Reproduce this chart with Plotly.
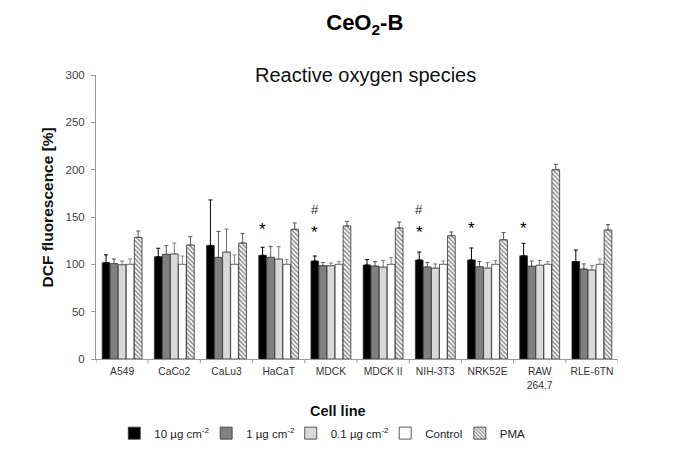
import plotly.graph_objects as go

cell_lines = ["A549", "CaCo2", "CaLu3", "HaCaT", "MDCK", "MDCK II", "NIH-3T3", "NRK52E", "RAW<br>264.7", "RLE-6TN"]
series_names = ["10 µg cm<sup>-2</sup>", "1 µg cm<sup>-2</sup>", "0.1 µg cm<sup>-2</sup>", "Control", "PMA"]

v_10 = [101.8, 108, 120, 109.5, 103.5, 99.3, 104.6, 104.6, 109, 103]
e_10 = [8.2, 9, 48, 8.5, 5.3, 5.7, 8.4, 12.7, 13.2, 12]
v_1 = [100.7, 110.6, 107.4, 107.4, 98.6, 98.2, 97.2, 97.5, 98, 95]
e_1 = [4.9, 9.1, 27.4, 11.6, 3.4, 4.6, 4.8, 5.5, 5.5, 5.4]
v_01 = [99.6, 111, 113, 105.6, 98.6, 97, 96, 96, 99, 94]
e_01 = [3.9, 11.5, 24.3, 13.1, 2.8, 6.9, 4.4, 5.8, 5, 4.6]
v_ctrl = [100, 100, 100, 100, 100, 100, 100, 100, 100, 100]
e_ctrl = [5.6, 8.8, 10, 5, 2.8, 7, 3.5, 3.9, 2.8, 5.6]
v_pma = [128.5, 120.4, 122.5, 137, 140.5, 138.4, 130.3, 126, 200, 136.3]
e_pma = [6.7, 8.8, 10.2, 6.7, 4.9, 6.3, 3.9, 7.5, 5.6, 5.7]

star_idx = [3, 4, 6, 7, 8]
star_y = [140, 137, 137, 140.8, 140.8]
hash_idx = [4, 6]
hash_y = [158, 158]

fills = ["#000000", "#808080", "#d9d9d9", "#ffffff", "#ffffff"]
errcol = ["#000000", "#555555", "#777777", "#888888", "#555555"]
vals = [v_10, v_1, v_01, v_ctrl, v_pma]
errs = [e_10, e_1, e_01, e_ctrl, e_pma]

# legend entry left positions (paper fraction of plot width)
legend_x = [0.035, 0.211, 0.373, 0.554, 0.697]
legend_ids = ["legend", "legend2", "legend3", "legend4", "legend5"]

fig = go.Figure()
for i in range(5):
    marker = dict(color=fills[i], line=dict(color="#333333", width=0.8))
    if i == 4:
        marker["pattern"] = dict(shape="\\", fgcolor="#222222", bgcolor="#ffffff", size=3.2, solidity=0.5)
    fig.add_trace(go.Bar(
        x=list(range(len(cell_lines))), y=vals[i], name=series_names[i], marker=marker,
        legend=legend_ids[i],
        error_y=dict(type="data", symmetric=False, array=errs[i], arrayminus=[0] * len(cell_lines),
                     color=errcol[i], thickness=1, width=2),
    ))

ann = []
for k, yv in zip(star_idx, star_y):
    ann.append(dict(x=k, y=yv, xref="x", yref="y", text="*", showarrow=False, xshift=-16,
                    font=dict(size=17, color="#000", family="Liberation Sans"), yshift=-3))
for k, yv in zip(hash_idx, hash_y):
    ann.append(dict(x=k, y=yv, xref="x", yref="y", text="#", showarrow=False, xshift=-16,
                    font=dict(size=13, color="#222", family="Liberation Sans")))
ann.append(dict(x=0.5, y=1.0, xref="paper", yref="paper", text="Reactive oxygen species", showarrow=False,
                yanchor="middle", yshift=0, xshift=8, font=dict(size=20, color="#111")))
ann.append(dict(x=-0.093, y=0.5, xref="paper", yref="paper", text="<b>DCF fluorescence [%]</b>", showarrow=False,
                textangle=-90, xanchor="center", yanchor="middle", yshift=10,
                font=dict(size=15.5, color="#111")))
ann.append(dict(x=0.5, y=0, xref="paper", yref="paper", text="<b>Cell line</b>", showarrow=False,
                yanchor="middle", yshift=-52, xshift=-19, font=dict(size=14.5, color="#111")))

layout_legends = {}
for lid, lx in zip(legend_ids, legend_x):
    layout_legends[lid] = dict(orientation="h", x=lx, xanchor="left", y=-0.21, yanchor="top",
                               font=dict(size=11.5, color="#222"), itemwidth=30, bgcolor="rgba(0,0,0,0)")

fig.update_layout(
    width=677, height=458,
    margin=dict(l=88, r=67, t=67, b=107),
    paper_bgcolor="white", plot_bgcolor="white",
    font=dict(family="Liberation Sans, Arial, sans-serif", color="#222", size=11),
    title=dict(text="<b>CeO<sub>2</sub>-B</b>", x=0.527, xanchor="center", y=0.969, yanchor="middle",
               font=dict(size=22, color="#000")),
    barmode="group", bargap=0.23, bargroupgap=0.04,
    showlegend=True,
    annotations=ann,
    xaxis=dict(tickmode="array", tickvals=list(range(len(cell_lines))), ticktext=cell_lines,
               showline=True, linecolor="#999", linewidth=1, ticks="", showgrid=False,
               range=[-0.5, 9.5], tickfont=dict(size=10.3, color="#333"), ticklabelstandoff=3),
    yaxis=dict(range=[0, 300], dtick=50, showline=True, linecolor="#999", linewidth=1,
               ticks="outside", ticklen=4, tickcolor="#999", showgrid=False, zeroline=False,
               tickfont=dict(size=11.5, color="#444"), ticklabelstandoff=4),
    **layout_legends,
)

# category boundary ticks on x-axis
for b in range(11):
    fig.add_shape(type="line", xref="x", yref="paper", x0=b - 0.5, x1=b - 0.5, y0=0, y1=-0.015,
                  line=dict(color="#999", width=1))

fig.write_html("out.html")
